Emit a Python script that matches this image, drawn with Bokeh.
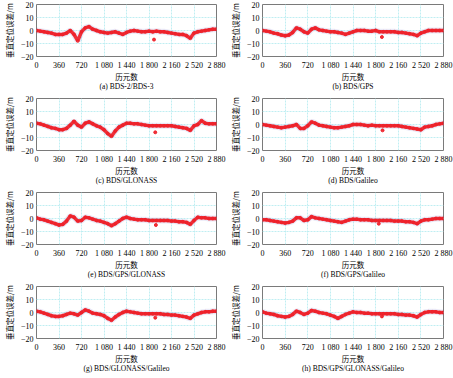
from bokeh.plotting import figure
from bokeh.layouts import column, row
from bokeh.models import FixedTicker, ColumnDataSource
from bokeh.embed import file_html
from bokeh.resources import INLINE

epochs = [0, 60, 120, 180, 240, 300, 360, 420, 480, 540, 600, 660, 720, 780, 840, 900,
          960, 1020, 1080, 1140, 1200, 1260, 1320, 1380, 1440, 1500, 1560, 1620, 1680,
          1740, 1800, 1860, 1920, 1980, 2040, 2100, 2160, 2220, 2280, 2340, 2400, 2460,
          2520, 2580, 2640, 2700, 2760, 2820, 2880]

err_a = [0, -0.5, -1, -1.5, -2, -3, -3, -3, -2, 0, -3, -8, -1, 2, 3, 1, 0, -1, -1.5, -2, -1.5,
         -1, -2, -3, -1.5, -0.5, 0, -0.5, -1, -1, -0.5, -1, -0.5, -1, -1, -1.5, -2, -2.5, -3,
         -3, -4, -6, -2, -1, -0.5, 0, 0.5, 1, 1]
err_b = [0, -0.5, -1, -2, -2.5, -3.5, -4, -3.5, -1.5, 2, 1, -1, -2, 1, 2, 0.5, 0, -0.5, -1, -1,
         -1.5, -2, -3, -2, -1, 0, 0, 0, -0.5, -0.5, 0, -1, -1, -1, -1, -1, -1.5, -1.5, -2, -2.5,
         -3, -4, -2, -1, 0, 0, 0, 0, 0]
err_c = [1, 0.5, -0.5, -1.5, -2.5, -3, -4, -4, -3, -0.5, 2.5, -0.5, -2, 1, 2, 0.5, -1, -2, -4,
         -7, -9, -5, -2, -0.5, 1, 1, 0.5, 0.5, 0, -0.5, -1, -1, -1, -1, -1, -1, -1, -1.5, -2,
         -2.5, -3, -4.5, -1, 0, 3, 1, 0.5, 0.5, 0.5]
err_d = [0, -0.5, -1, -1.5, -2, -2.5, -2, -1.5, -1, 0, -3, -3, -1, 2, 1, -0.5, -1, -1.5, -2,
         -2.5, -2.5, -2, -1.5, -1, 0, 0, 0, -0.5, -1, -0.5, -1, -1, -1, -1, -1, -1, -1, -1.5,
         -2, -2.5, -3, -3.5, -4, -2, -1.5, -1, 0, 0.5, 1]
err_e = [0.5, -0.5, -1, -2, -3, -4, -5, -4.5, -2, 2, 1, -2, -1.5, 1, 0.5, -0.5, -1.5, -2, -3,
         -4, -5.5, -4, -2, 0, 1, 0, -0.5, -1, -1, -1, -1.5, -1.5, -1.5, -1.5, -1.5, -1.5, -2,
         -2, -2.5, -2.5, -3, -4.5, -1.5, 1, 0.5, 0.5, 0, 0, 0]
err_f = [-1, -1, -1.5, -2, -2.5, -3, -3.5, -3, -2, 0.5, 0.5, -1.5, -1, 1.5, 0.5, 0, -0.5, -1,
         -1.5, -2, -2.5, -3, -2, -1, -0.5, -0.5, -1, -1, -1, -1.5, -1.5, -1.5, -1.5, -1.5,
         -1.5, -2, -2, -2, -2.5, -2.5, -3, -4, -2, -1, -1, -0.5, 0, 0, 0]
err_g = [1, 0.5, -0.5, -1.5, -2.5, -3, -3, -2.5, -1.5, -0.5, -1, -2, 0, 2, 1, -0.5, -1, -1.5,
         -2.5, -4.5, -6, -3.5, -1.5, 0, 1, 0.5, 0, -0.5, -1, -1, -1, -1, -1, -1, -1.5, -1.5, -2,
         -2, -2.5, -3, -3.5, -4.5, -2, -1, 0, 0.5, 0.5, 1, 1]
err_h = [0.5, -0.5, -1, -1.5, -2.5, -3, -3.5, -3, -1.5, 1, 0, -1.5, -0.5, 1.5, 1, 0, -0.5, -1,
         -2, -3, -4.5, -3, -1.5, -0.5, 0.5, 0, 0, -0.5, -0.5, -1, -1, -1, -1, -1, -1, -1, -1.5,
         -1.5, -2, -2, -2.5, -3.5, -1.5, 0, 0.5, 0.5, 0.5, 0, 0]

outlier_x = [1880, 1900, 1900, 1910, 1910, 1850, 1900, 1900]
outlier_y = [-7, -5, -6, -4.5, -5, -4, -4, -3]

captions = ["(a) BDS-2/BDS-3", "(b) BDS/GPS", "(c) BDS/GLONASS", "(d) BDS/Galileo",
            "(e) BDS/GPS/GLONASS", "(f) BDS/GPS/Galileo", "(g) BDS/GLONASS/Galileo",
            "(h) BDS/GPS/GLONASS/Galileo"]

x_ticks = [0, 360, 720, 1080, 1440, 1800, 2160, 2520, 2880]
x_tick_labels = ["0", "360", "720", "1 080", "1 440", "1 800", "2 160", "2 520", "2 880"]
y_ticks = [-20, -10, 0, 10, 20]
y_tick_labels = ["\u221220", "\u221210", "0", "10", "20"]
x_title = "历元数"
y_title = "垂直定位误差/m"

series = [err_a, err_b, err_c, err_d, err_e, err_f, err_g, err_h]

SERIF = "Liberation Serif"
MIXED = "Liberation Serif, Noto Sans CJK SC"
CJK = "Noto Sans CJK SC"


def make_panel(i):
    left_col = (i % 2 == 0)
    p = figure(width=226 if left_col else 227, height=94,
               x_range=(0, 2880), y_range=(-20, 20),
               output_backend="svg", toolbar_location=None,
               min_border_left=29 if left_col else 31,
               min_border_right=10, min_border_top=4, min_border_bottom=38)
    p.background_fill_color = "white"
    p.border_fill_color = "white"
    p.outline_line_color = "#7a7a7a"
    p.outline_line_width = 1
    p.outline_line_alpha = 1

    src = ColumnDataSource(dict(x=epochs, y=series[i]))
    p.line("x", "y", source=src, line_color="#8f8fd8", line_width=6, line_alpha=0.2)
    p.line("x", "y", source=src, line_color="#ee1c25", line_width=3.5, line_alpha=0.9)
    p.scatter("x", "y", source=src, size=3, color="#ee1c25", alpha=0.6)
    p.scatter([outlier_x[i]], [outlier_y[i]], size=3, color="#ee1c25", alpha=0.9)

    p.xaxis.ticker = FixedTicker(ticks=x_ticks)
    p.yaxis.ticker = FixedTicker(ticks=y_ticks)
    p.xaxis.major_label_overrides = dict(zip(x_ticks, x_tick_labels))
    p.yaxis.major_label_overrides = dict(zip(y_ticks, y_tick_labels))
    for ax in (p.xaxis[0], p.yaxis[0]):
        ax.axis_line_color = None
        ax.major_tick_line_color = None
        ax.minor_tick_line_color = None
        ax.major_tick_out = 0
        ax.major_tick_in = 0
        ax.minor_tick_out = 0
        ax.major_label_text_font = SERIF
        ax.major_label_text_font_size = "8px"
        ax.major_label_text_color = "black"
        ax.axis_label_text_font_style = "normal"
        ax.axis_label_text_color = "black"
    p.xaxis.major_label_standoff = 4
    p.yaxis.major_label_standoff = 3

    p.xaxis.axis_label = x_title + "\n" + captions[i]
    p.xaxis.axis_label_text_font = MIXED
    p.xaxis.axis_label_text_font_size = "7.5px"
    p.xaxis.axis_label_text_line_height = 1.0
    p.xaxis.axis_label_standoff = 0

    p.yaxis.axis_label = y_title
    p.yaxis.axis_label_text_font = CJK
    p.yaxis.axis_label_text_font_size = "7.5px"
    p.yaxis.axis_label_standoff = 3

    p.xgrid.ticker = FixedTicker(ticks=x_ticks)
    p.ygrid.ticker = FixedTicker(ticks=y_ticks)
    for g in (p.xgrid[0], p.ygrid[0]):
        g.grid_line_color = "#bfeef2"
        g.grid_line_width = 1
        g.grid_line_dash = "2 1"
    return p


panels = [make_panel(i) for i in range(8)]
layout = column(*[row(panels[2 * r], panels[2 * r + 1]) for r in range(4)])

open("out.html", "w").write(file_html(layout, INLINE))
